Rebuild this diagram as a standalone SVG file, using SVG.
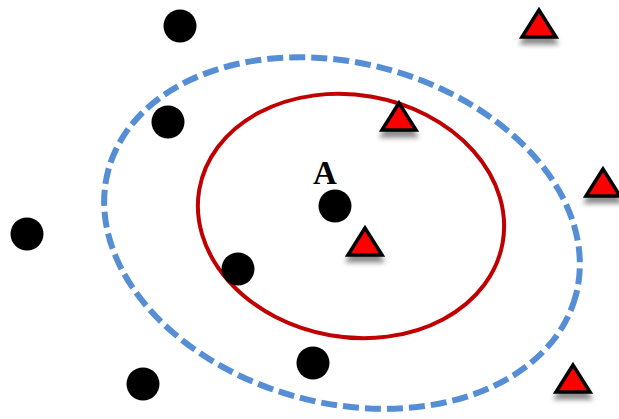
<svg xmlns="http://www.w3.org/2000/svg" width="619" height="419" viewBox="0 0 619 419">
<defs>
<filter id="sh" x="-50%" y="-50%" width="200%" height="220%">
<feGaussianBlur in="SourceAlpha" stdDeviation="2.5"/>
<feOffset dx="0" dy="6" result="b"/>
<feComponentTransfer><feFuncA type="linear" slope="0.45"/></feComponentTransfer>
<feMerge><feMergeNode/><feMergeNode in="SourceGraphic"/></feMerge>
</filter>
<path id="tri" d="M0,-13 L-17,14 L17,14 Z"/>
<style>
.dot{fill:#000}
.tri{fill:#ff0000;stroke:#000;stroke-width:3.5;stroke-linejoin:miter;filter:url(#sh)}
.red{fill:none;stroke:#c00000;stroke-width:4}
.blue{fill:none;stroke:#558ed5;stroke-width:6;stroke-dasharray:16 6}
.lbl{font-family:"Liberation Serif",serif;font-weight:bold;font-size:33px;fill:#000}
</style>
</defs>
<rect width="619" height="419" fill="#fff"/>
<g id="connectors">
<ellipse id="blue-ellipse" class="blue" cx="342" cy="233" rx="242" ry="170" transform="rotate(15 342 233)"/>
<ellipse id="red-ellipse" class="red" cx="351" cy="216" rx="154" ry="121" transform="rotate(10 351 216)"/>
</g>
<g id="dot1"><circle class="dot" cx="180" cy="26" r="16.5"/></g>
<g id="dot2"><circle class="dot" cx="168" cy="122" r="16.5"/></g>
<g id="nodeA"><circle class="dot" cx="335" cy="206" r="16.5"/><text class="lbl" x="325" y="184" text-anchor="middle">A</text></g>
<g id="dot4"><circle class="dot" cx="27" cy="234" r="16.5"/></g>
<g id="dot5"><circle class="dot" cx="238" cy="269" r="16.5"/></g>
<g id="dot6"><circle class="dot" cx="313" cy="363" r="16.5"/></g>
<g id="dot7"><circle class="dot" cx="143" cy="384" r="16.5"/></g>
<g id="tri1"><use href="#tri" class="tri" x="539" y="23"/></g>
<g id="tri2"><use href="#tri" class="tri" x="399" y="116"/></g>
<g id="tri3"><use href="#tri" class="tri" x="365" y="241"/></g>
<g id="tri4"><use href="#tri" class="tri" x="603" y="182"/></g>
<g id="tri5"><use href="#tri" class="tri" x="573" y="378"/></g>
</svg>
